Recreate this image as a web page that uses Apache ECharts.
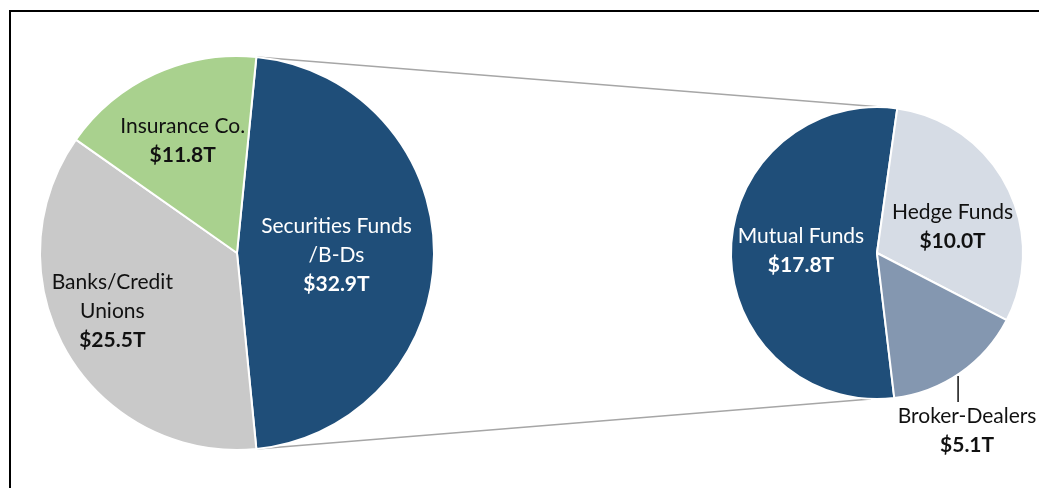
<!DOCTYPE html>
<html>
<head>
<meta charset="utf-8">
<script src="https://cdn.jsdelivr.net/npm/echarts@6/dist/echarts.min.js"></script>
<style>html,body{margin:0;padding:0;background:#fff}#c{width:1039px;height:488px}</style>
</head>
<body>
<div id="c"></div>
<script>
// ---- data ----
var mainNames = ['Securities Funds\n/B-Ds', 'Banks/Credit\nUnions', 'Insurance Co.'];
var mainValues = [32.9, 25.5, 11.8];
var subNames = ['Mutual Funds', 'Hedge Funds', 'Broker-Dealers'];
var subValues = [17.8, 10.0, 5.1];

// ---- layout / style ----
var FONT = 'Lato, "Open Sans", sans-serif';
var W = 1039, H = 488;
var L = {cx: 237, cy: 253, r: 197};
var R = {cx: 877, cy: 253, r: 146};
var mainColors = ['#1F4E79', '#C9C9C9', '#A9D18E'];
var subColors = ['#1F4E79', '#D6DCE5', '#8497B0'];
var mainText = ['#ffffff', '#111111', '#111111'];
var subText = ['#ffffff', '#111111', '#111111'];

function sum(a){return a.reduce(function(s,v){return s+v;},0);}
var mainTotal = sum(mainValues), subTotal = sum(subValues);
var secDeg = mainValues[0] / mainTotal * 360;
var mainStart = secDeg / 2;                 // split slice centred at 3 o'clock
var mutDeg = subValues[0] / subTotal * 360;
var subStart = 180 + mutDeg / 2 - 0.6;      // first sub slice centred near 9 o'clock

function richFor(color){
  return {
    n: {fontFamily: FONT, fontSize: 21, color: color, lineHeight: 29, align: 'center'},
    b: {fontFamily: FONT, fontSize: 21, fontWeight: 'bold', color: color, lineHeight: 29, align: 'center'}
  };
}
function fmt(p){
  return p.name.split('\n').map(function(l){return '{n|' + l + '}';}).join('\n') +
         '\n{b|$' + p.value.toFixed(1) + 'T}';
}

var mainData = mainNames.map(function(n, i){
  return {name: n, value: mainValues[i], itemStyle: {color: mainColors[i]},
          label: {rich: richFor(mainText[i])}};
});
var subData = subNames.map(function(n, i){
  var d = {name: n, value: subValues[i], itemStyle: {color: subColors[i]},
           label: {rich: richFor(subText[i])}};
  if (i === 2) {
    d.label.position = 'outside';
    d.labelLine = {show: true, length: 10, length2: 10, lineStyle: {color: '#111111', width: 1.5}};
  }
  return d;
});

var mainShift = [[-2, 2], [-37, 7], [-12, -20]];
var subShift = [[0, -1], [8, 9]];

// connector lines computed from geometry
var a1 = mainStart * Math.PI / 180;
var pTop = [L.cx + L.r * Math.cos(a1), L.cy - L.r * Math.sin(a1)];
var pBot = [L.cx + L.r * Math.cos(a1), L.cy + L.r * Math.sin(a1)];
var qTop = [R.cx + 4, R.cy - R.r];
var qBot = [R.cx - 6, R.cy + R.r];

var chart = echarts.init(document.getElementById('c'), null, {renderer: 'canvas'});
chart.setOption({
  backgroundColor: '#ffffff',
  animation: false,
  graphic: [
    {type: 'rect', shape: {x: 10, y: 11, width: W + 50, height: H + 50},
     style: {fill: null, stroke: '#000', lineWidth: 2}, z: 0},
    {type: 'line', shape: {x1: pTop[0], y1: pTop[1], x2: qTop[0], y2: qTop[1]},
     style: {stroke: '#A6A6A6', lineWidth: 1.5}, z: 1},
    {type: 'line', shape: {x1: pBot[0], y1: pBot[1], x2: qBot[0], y2: qBot[1]},
     style: {stroke: '#A6A6A6', lineWidth: 1.5}, z: 1}
  ],
  series: [
    {
      type: 'pie', center: [L.cx, L.cy], radius: [0, L.r],
      startAngle: mainStart, clockwise: true, avoidLabelOverlap: false,
      itemStyle: {borderColor: '#fff', borderWidth: 2},
      label: {show: true, position: 'inside', formatter: fmt},
      labelLine: {show: false},
      labelLayout: function(p){ var s = mainShift[p.dataIndex]; return {dx: s[0], dy: s[1]}; },
      data: mainData, z: 2
    },
    {
      type: 'pie', center: [R.cx, R.cy], radius: [0, R.r],
      startAngle: subStart, clockwise: true, avoidLabelOverlap: false,
      itemStyle: {borderColor: '#fff', borderWidth: 2},
      label: {show: true, position: 'inside', formatter: fmt},
      labelLine: {show: false},
      labelLayout: function(p){
        if (p.dataIndex < 2) { var s = subShift[p.dataIndex]; return {dx: s[0], dy: s[1]}; }
        var pts = p.labelLinePoints;
        if (!pts) return {};
        var ex = pts[0][0] - 2, ey = pts[0][1];
        return {
          x: ex + 9, y: ey + 58, align: 'center', verticalAlign: 'middle',
          labelLinePoints: [[ex, ey + 3], [ex, ey + 29], [ex, ey + 29]]
        };
      },
      data: subData, z: 2
    }
  ]
});
</script>
</body>
</html>
